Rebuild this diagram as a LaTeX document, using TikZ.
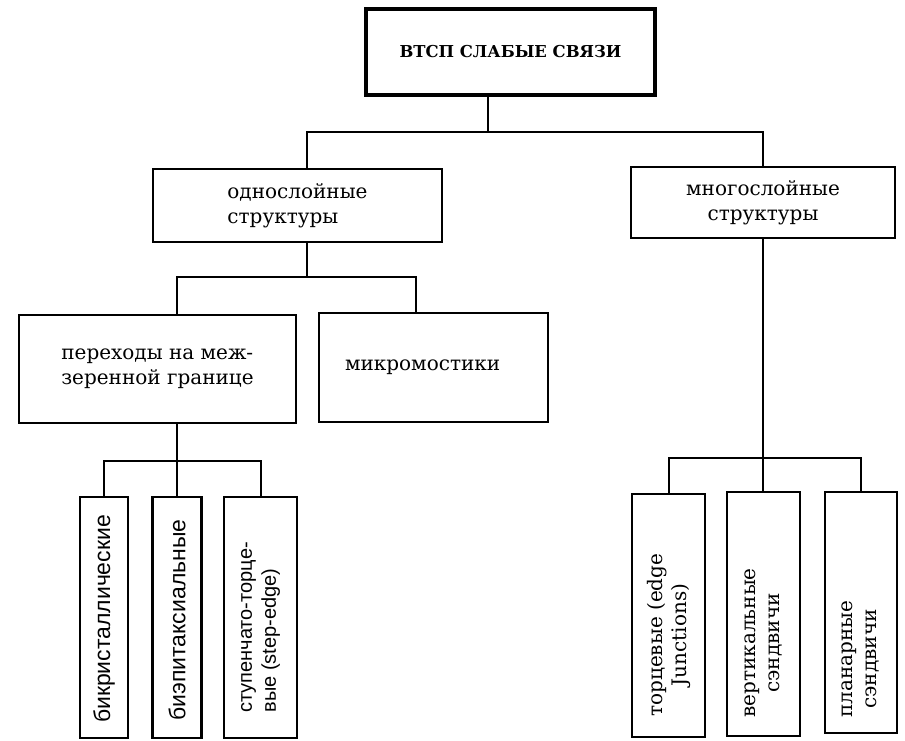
\documentclass[tikz,border=0pt]{standalone}
\usepackage{fontspec}
\newfontfamily\monofnt{DejaVu Serif}
\newfontfamily\sansfnt{Liberation Sans}

\begin{document}
\begin{tikzpicture}[
    x=0.5pt, y=-0.5pt,
    box/.style={rectangle, draw=black, line width=1.2pt, inner sep=0pt, align=center, font=\monofnt\fontsize{10}{12.5}\selectfont},
    headbox/.style={box, line width=2pt, font=\monofnt\bfseries\fontsize{8.2}{12}\selectfont},
    tallbox/.style={rectangle, draw=black, line width=1.2pt, inner sep=0pt},
    sidetext/.style={rotate=90, inner sep=0pt, align=left, font=\sansfnt\fontsize{11.5}{13}\selectfont},
    monotext/.style={rotate=90, inner sep=0pt, align=center, anchor=west, font=\monofnt\fontsize{10}{12}\selectfont},
    wire/.style={line width=1pt}
]
    \useasboundingbox (0,0) rectangle (905,740);

    % top level
    \node[headbox, minimum width=144.5pt, minimum height=43pt] (root) at (510.5,52) {ВТСП СЛАБЫЕ СВЯЗИ};

    % second level
    \node[box, align=left, minimum width=144.5pt, minimum height=36.5pt] (single) at (297.5,205.5) {однослойные\\структуры};
    \node[box, minimum width=132pt, minimum height=35.5pt] (multi) at (763,202.5) {многослойные\\структуры};

    % third level
    \node[box, align=left, minimum width=138.5pt, minimum height=54pt] (gb) at (157.5,369) {переходы на меж-\\зеренной границе};
    \node[box, align=left, text width=88.5pt, minimum width=114.5pt, minimum height=54.5pt] (micro) at (433.5,367.5) {микромостики};

    % bottom boxes, left
    \node[tallbox, minimum width=24pt, minimum height=120.5pt] (bicr) at (104,617.5) {};
    \node[tallbox, minimum width=24.5pt, minimum height=120.5pt] (biep) at (177,617.5) {};
    \node[tallbox, minimum width=36.5pt, minimum height=120.5pt] (stepedge) at (260.5,617.5) {};
    \node[sidetext] (bicrtext) at (104,619) {бикристаллические};
    \node[sidetext] (bieptext) at (177,620) {биэпитаксиальные};
    \node[sidetext, anchor=west, font=\sansfnt\fontsize{10}{12}\selectfont] (steptext) at (260.5,713) {ступенчато-торце-\\вые (step-edge)};

    % bottom boxes, right
    \node[tallbox, minimum width=36.5pt, minimum height=121.5pt] (edge) at (668.5,615.5) {};
    \node[tallbox, minimum width=36.5pt, minimum height=122pt] (vert) at (763.5,614) {};
    \node[tallbox, minimum width=36pt, minimum height=120.5pt] (plan) at (861,612.5) {};
    \node[monotext] (edgetext) at (668.5,717) {торцевые (edge\\Junctions)};
    \node[monotext] (verttext) at (763.5,718) {вертикальные\\сэндвичи};
    \node[monotext] (plantext) at (861,718) {планарные\\сэндвичи};

    % junctions
    \coordinate (j0) at (488,132);
    \coordinate (j1) at (307,277);
    \coordinate (m1) at (416,277);
    \coordinate (j2) at (177,461);
    \coordinate (j3) at (763,458);

    \draw[wire] (root.south -| j0) -- (j0);
    \draw[wire] (single.north -| j1) |- (j0 -| multi.north) -- (multi.north);

    \draw[wire] (single.south -| j1) -- (j1);
    \draw[wire] (gb.north -| j2) |- (m1) -- (micro.north -| m1);

    \draw[wire] (gb.south -| j2) -- (j2);
    \draw[wire] (bicr.north) |- (j2) -| (stepedge.north);
    \draw[wire] (j2) -- (biep.north);

    \draw[wire] (multi.south) -- (multi.south |- vert.north);
    \draw[wire] (edge.north) |- (j3) -| (plan.north);

\end{tikzpicture}
\end{document}
